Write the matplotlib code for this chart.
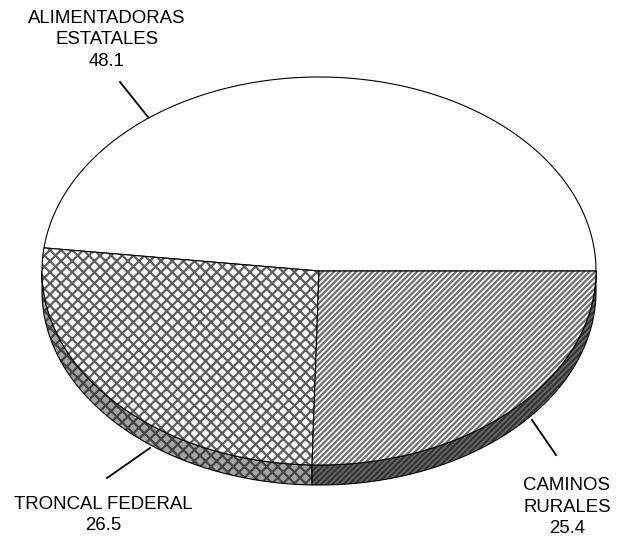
import numpy as np
import matplotlib.pyplot as plt
from matplotlib.patches import Polygon

plt.rcParams['font.family'] = ['Liberation Sans', 'DejaVu Sans']
plt.rcParams['hatch.linewidth'] = 1.6

# data
labels = ["ALIMENTADORAS\nESTATALES", "TRONCAL FEDERAL", "CAMINOS\nRURALES"]
values = [48.1, 26.5, 25.4]

# look of each slice: top face hatch / colour, side colour
top_hatch = [None, 'xxx', '//////']
top_hatch_col = ['white', '#5e5e5e', '#6e6e6e']
side_face = ['#c8c8c8', '#a4a4a4', '#6a6a6a']
side_hatch_col = ['#808080', '#444444', '#333333']

# pie geometry in pixels
cx, cy = 319, 271
rx, ry = 277, 194
depth = 20

fig = plt.figure(figsize=(6.18, 5.44), dpi=100)
ax = fig.add_axes([0, 0, 1, 1])
ax.set_xlim(0, 618)
ax.set_ylim(544, 0)
ax.axis('off')


def arc(a0, a1, dy=0, n=200):
    t = np.radians(np.linspace(a0, a1, n))
    return np.column_stack([cx + rx * np.cos(t), cy + dy - ry * np.sin(t)])


angles = np.concatenate([[0], np.cumsum(values) / sum(values) * 360])

# side walls (front half only)
for i in range(len(values)):
    a0 = max(angles[i], 180)
    a1 = min(angles[i + 1], 360)
    if a1 <= a0:
        continue
    pts = np.vstack([arc(a0, a1), arc(a1, a0, depth)])
    ax.add_patch(Polygon(pts, closed=True, facecolor=side_face[i],
                         edgecolor=side_hatch_col[i], hatch=top_hatch[i], lw=0))
    ax.add_patch(Polygon(pts, closed=True, fill=False, edgecolor='black', lw=0.8))

# top faces
for i in range(len(values)):
    pts = np.vstack([[cx, cy], arc(angles[i], angles[i + 1])])
    ax.add_patch(Polygon(pts, closed=True, facecolor='white',
                         edgecolor=top_hatch_col[i], hatch=top_hatch[i], lw=0))
    ax.add_patch(Polygon(pts, closed=True, fill=False, edgecolor='black', lw=0.8))

# labels with leader lines
lab_pos = [(107, 40), (103, 515), (567, 507)]
leaders = [((148, 117), (120, 82)), ((150, 448), (107, 478)), ((532, 420), (556, 455))]
for i in range(len(values)):
    (x0, y0), (x1, y1) = leaders[i]
    ax.plot([x0, x1], [y0, y1], color='black', lw=1.3)
    ax.text(lab_pos[i][0], lab_pos[i][1], f"{labels[i]}\n{values[i]}",
            ha='center', va='center', fontsize=13.4, linespacing=1.32)

fig.savefig('out.png', dpi=100)
